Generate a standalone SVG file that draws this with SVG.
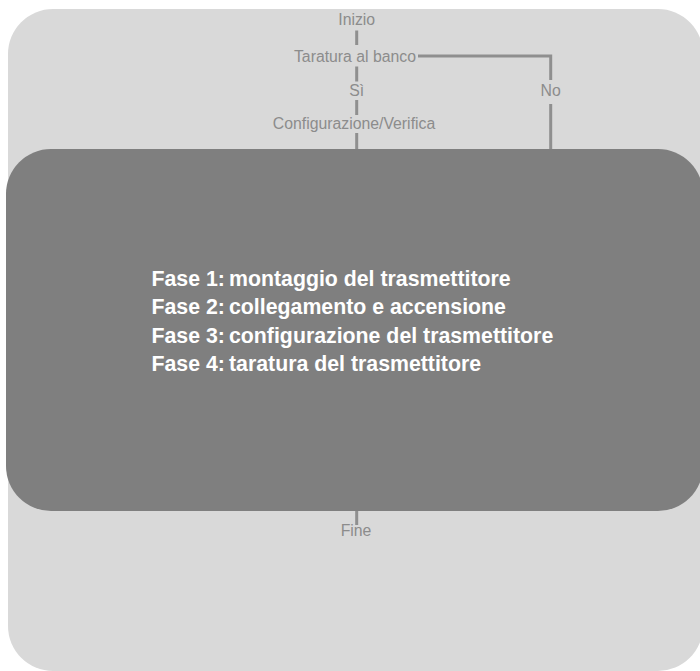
<svg xmlns="http://www.w3.org/2000/svg" width="700" height="671" viewBox="0 0 700 671">
  <style>
    .lbl { font-family: "Liberation Sans", Arial, sans-serif; font-size: 15.8px; fill: #8c8c8c; text-anchor: middle; }
    .ph { font-family: "Liberation Sans", Arial, sans-serif; font-size: 21.3px; font-weight: bold; fill: #ffffff; }
    .conn { stroke: #8f8f8f; stroke-width: 3; fill: none; }
  </style>
  <rect width="700" height="671" fill="#ffffff"/>
  <g id="background">
    <rect x="8" y="9" width="695" height="662" rx="45" ry="45" fill="#d9d9d9"/>
  </g>
  <g id="connectors">
    <line class="conn" x1="356.7" y1="30.5" x2="356.7" y2="45"/>
    <line class="conn" x1="356.7" y1="66.5" x2="356.7" y2="81.5"/>
    <line class="conn" x1="356.7" y1="100" x2="356.7" y2="115"/>
    <line class="conn" x1="356.7" y1="133" x2="356.7" y2="150"/>
    <polyline class="conn" points="418,56 550.7,56 550.7,80"/>
    <line class="conn" x1="550.7" y1="104" x2="550.7" y2="150"/>
    <line class="conn" x1="356.7" y1="510" x2="356.7" y2="525"/>
  </g>
  <g id="phases">
    <rect x="6" y="149" width="697" height="362" rx="45" ry="45" fill="#7f7f7f"/>
    <text class="ph" x="151.5" y="286">Fase 1:</text>
    <text class="ph" x="229" y="286">montaggio del trasmettitore</text>
    <text class="ph" x="151.5" y="314.3">Fase 2:</text>
    <text class="ph" x="229" y="314.3">collegamento e accensione</text>
    <text class="ph" x="151.5" y="342.7">Fase 3:</text>
    <text class="ph" x="229" y="342.7">configurazione del trasmettitore</text>
    <text class="ph" x="151.5" y="371">Fase 4:</text>
    <text class="ph" x="229" y="371">taratura del trasmettitore</text>
  </g>
  <g id="inizio"><text class="lbl" x="356.7" y="25">Inizio</text></g>
  <g id="taratura"><text class="lbl" x="355" y="61.5">Taratura al banco</text></g>
  <g id="si"><text class="lbl" x="356.7" y="96">Sì</text></g>
  <g id="no"><text class="lbl" x="550.7" y="96">No</text></g>
  <g id="configurazione"><text class="lbl" x="354" y="128.5">Configurazione/Verifica</text></g>
  <g id="fine"><text class="lbl" x="356" y="535.5">Fine</text></g>
</svg>
